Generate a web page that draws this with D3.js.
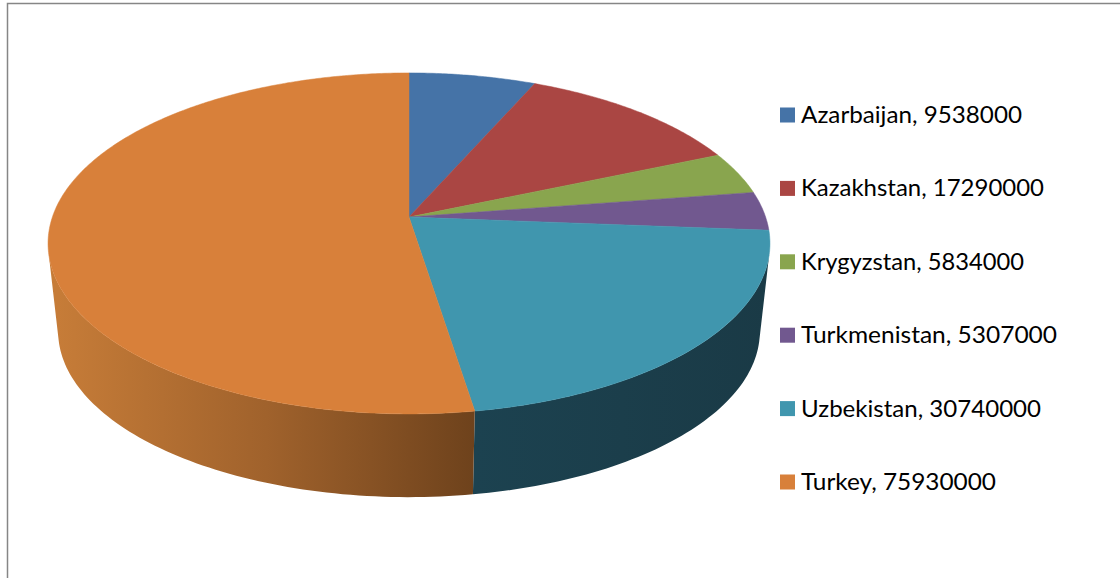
<!DOCTYPE html>
<html>
<head>
<meta charset="utf-8">
<script src="https://cdn.jsdelivr.net/npm/d3@7"></script>
<style>
  html, body { margin: 0; padding: 0; background: #fff; overflow: hidden; }
  svg { display: block; }
</style>
</head>
<body>
<div id="viz"></div>
<script>
let categories = ["Azarbaijan", "Kazakhstan", "Krygyzstan", "Turkmenistan", "Uzbekistan", "Turkey"];
let values = [9538000, 17290000, 5834000, 5307000, 30740000, 75930000];

let colors = ["#4573a7", "#aa4643", "#89a54e", "#71588f", "#4096ae", "#d8803a"];
// side walls, left to right (only the two front slices show)
let sideStops = {
  4: ["#1c4250", "#1a3a46"],
  5: ["#c67c38", "#a0622c", "#6e421c"]
};
let legendWidths = [221, 243, 223, 256, 240, 195];

let w = 1120;
let h = 578;

let viz = d3.select("#viz").append("svg")
  .attr("width", w)
  .attr("height", h)
  .attr("viewBox", "0 0 " + w + " " + h);

// frame, runs off the right and bottom of the picture
viz.append("path")
  .attr("d", "M7.5," + h + "V3.5H" + w)
  .attr("fill", "none")
  .attr("stroke", "#868686")
  .attr("stroke-width", 1.5);

// perspective of the tilted disc: circle centre lands at the apex, not the ellipse centre
let apexX = 409, apexY = 217;
let k = -0.155, bx = 356.6, by = 166.4;
function topPoint(a) {
  let u = Math.sin(a), v = -Math.cos(a);
  let d = 1 + k * v;
  return [apexX + bx * u / d, apexY + by * v / d];
}
// bottom face is the top face shrunk a bit and moved down
let shrink = 0.972, topCy = 243, bottomCy = 331;
function bottomPoint(a) {
  let p = topPoint(a);
  return [apexX + (p[0] - apexX) * shrink, bottomCy + (p[1] - topCy) * shrink];
}

let pie = d3.pie().sort(null).value(d => d)(values);
let line = d3.line();

function arcAngles(a0, a1, step) {
  let n = Math.max(2, Math.ceil((a1 - a0) / step));
  return d3.range(n + 1).map(i => a0 + (a1 - a0) * i / n);
}

let defs = viz.append("defs");
Object.keys(sideStops).forEach(function(i) {
  let stops = sideStops[i];
  let x0 = topPoint(pie[i].startAngle)[0];
  let x1 = topPoint(pie[i].endAngle)[0];
  if (i == 5) { x0 = 58; x1 = topPoint(pie[i].startAngle)[0]; }
  let grad = defs.append("linearGradient")
    .attr("id", "side" + i)
    .attr("gradientUnits", "userSpaceOnUse")
    .attr("x1", Math.min(x0, x1)).attr("x2", Math.max(x0, x1))
    .attr("y1", 0).attr("y2", 0);
  stops.forEach(function(c, j) {
    grad.append("stop")
      .attr("offset", j / (stops.length - 1))
      .attr("stop-color", c);
  });
});

// walls first: front-facing quads only, all in one path per slice so there are no seams
let sides = viz.append("g").attr("class", "sides");
Object.keys(sideStops).forEach(function(i) {
  let angles = arcAngles(pie[i].startAngle, pie[i].endAngle, 0.02);
  let d = "";
  d3.pairs(angles).forEach(function(pair) {
    let quad = [topPoint(pair[0]), topPoint(pair[1]), bottomPoint(pair[1]), bottomPoint(pair[0])];
    if (d3.polygonArea(quad) > 0) d += line(quad) + "Z";
  });
  sides.append("path")
    .attr("d", d)
    .attr("fill", "url(#side" + i + ")");
});

// top face
viz.append("g").attr("class", "slices")
  .selectAll("path").data(pie).enter()
  .append("path")
    .attr("d", function(d) {
      let pts = arcAngles(d.startAngle, d.endAngle, 0.01).map(topPoint);
      return line([[apexX, apexY]].concat(pts)) + "Z";
    })
    .attr("fill", (d, i) => colors[i])
    .attr("stroke", (d, i) => colors[i])
    .attr("stroke-width", 0.5);

// legend
let rowY = d3.scalePoint().domain(categories).range([115, 482]);
let legend = viz.append("g").attr("class", "legend")
  .selectAll("g").data(categories).enter()
  .append("g")
    .attr("transform", d => "translate(780," + rowY(d) + ")");

legend.append("rect")
  .attr("x", 0)
  .attr("y", -7.5)
  .attr("width", 15)
  .attr("height", 15)
  .attr("fill", (d, i) => colors[i]);

legend.append("text")
  .attr("x", 21)
  .attr("y", 8)
  .attr("font-family", "Lato, 'Open Sans', sans-serif")
  .attr("font-size", 24)
  .attr("fill", "#000")
  .attr("textLength", (d, i) => legendWidths[i])
  .attr("lengthAdjust", "spacingAndGlyphs")
  .text((d, i) => d + ", " + values[i]);
</script>
</body>
</html>
